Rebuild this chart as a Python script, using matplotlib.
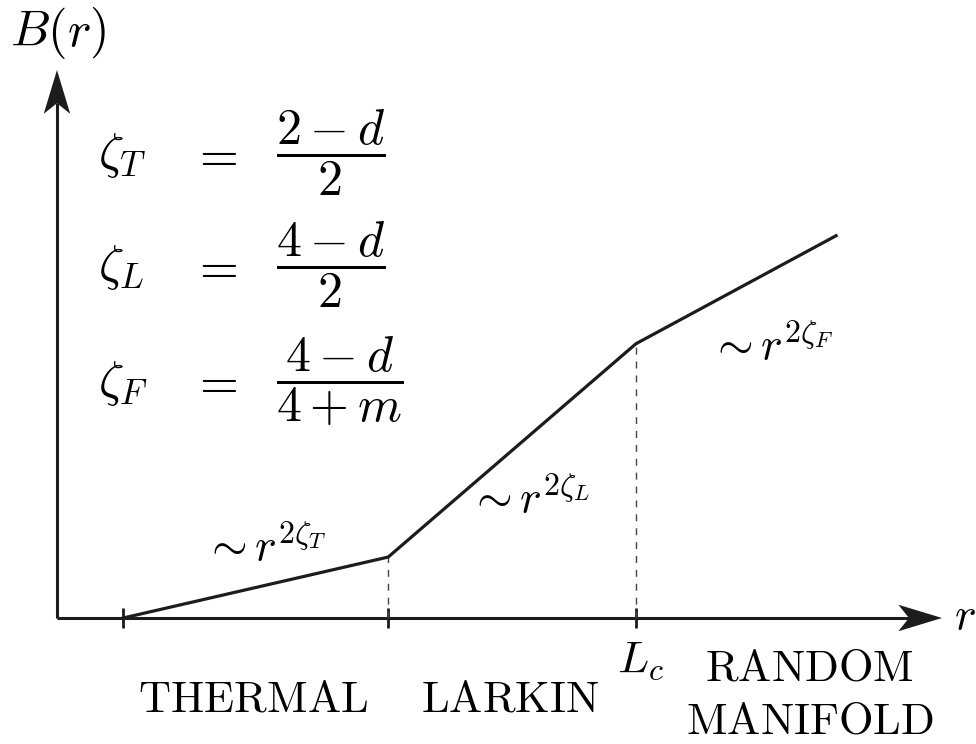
import matplotlib
matplotlib.use("Agg")
import matplotlib.pyplot as plt
from matplotlib.patches import Polygon

plt.rcParams['mathtext.fontset'] = 'cm'

# crossover scales and the piecewise power-law sketch of B(r)
r_points = [1.0, 5.0, 8.74, 11.76]
B_points = [0.0, 0.92, 4.14, 5.77]
tick_r = [1.0, 5.0, 8.74]
crossover_r = [5.0, 8.74]
crossover_B = [0.92, 4.14]

regime_labels = [r'$\mathrm{THERMAL}$', r'$\mathrm{LARKIN}$',
                 r'$\mathrm{RANDOM}$', r'$\mathrm{MANIFOLD}$']
law_labels = [r'$\sim r^{2\zeta_T}$', r'$\sim r^{2\zeta_L}$', r'$\sim r^{2\zeta_F}$']
zeta_names = [r'$\zeta_T$', r'$\zeta_L$', r'$\zeta_F$']
zeta_values = [r'$\dfrac{2-d}{2}$', r'$\dfrac{4-d}{2}$', r'$\dfrac{4-d}{4+m}$']

ink = '#1c1c1c'

fig = plt.figure(figsize=(9.76, 7.44), dpi=100)
ax = fig.add_axes([0, 0, 1, 1])
ax.set_xlim(-0.860, 13.872)
ax.set_ylim(-1.902, 9.328)
ax.axis('off')

# axes with stealth-style arrow heads
x_tip, y_tip = 13.36, 8.27
head_len, notch, half_w = 0.66, 0.16, 0.20
ax.plot([0, x_tip - head_len + notch], [0, 0], color=ink, lw=2.2, solid_capstyle='butt')
ax.plot([0, 0], [0, y_tip - head_len + notch], color=ink, lw=2.2, solid_capstyle='butt')
ax.add_patch(Polygon([(x_tip, 0), (x_tip - head_len, half_w),
                      (x_tip - head_len + notch, 0), (x_tip - head_len, -half_w)],
                     closed=True, color=ink, lw=0))
ax.add_patch(Polygon([(0, y_tip), (half_w, y_tip - head_len),
                      (0, y_tip - head_len + notch), (-half_w, y_tip - head_len)],
                     closed=True, color=ink, lw=0))

for t in tick_r:
    ax.plot([t, t], [-0.15, 0.15], color=ink, lw=2.0, solid_capstyle='butt')

for rc, bc in zip(crossover_r, crossover_B):
    ax.plot([rc, rc], [0, bc], color='#444444', lw=1.0, ls=(0, (5, 5)))

ax.plot(r_points, B_points, color=ink, lw=2.3, solid_joinstyle='miter')

# axis labels
ax.text(0.015, 8.83, r'$B(r)$', fontsize=36, ha='center', va='center')
ax.text(13.70, 0.02, r'$r$', fontsize=33, ha='center', va='center')
ax.text(8.80, -0.65, r'$L_c$', fontsize=33, ha='center', va='center')

# exponents
rows_y = [7.02, 5.33, 3.58]
for name, value, y in zip(zeta_names, zeta_values, rows_y):
    ax.text(0.62, y - 0.04, name, fontsize=36, ha='left', va='center')
    ax.text(2.38, y - 0.04, r'$=$', fontsize=36, ha='center', va='center')
    ax.text(3.31, y, value, fontsize=36, ha='left', va='center')

law_pos = [(3.14, 1.05), (7.12, 1.78), (10.78, 4.09)]
for lab, (x, y) in zip(law_labels, law_pos):
    ax.text(x, y, lab, fontsize=33, ha='center', va='center')

regime_pos = [(2.96, -1.22), (6.84, -1.22), (11.35, -0.76), (11.37, -1.55)]
for lab, (x, y) in zip(regime_labels, regime_pos):
    ax.text(x, y, lab, fontsize=32, ha='center', va='center')

fig.savefig('out.png', dpi=100, facecolor='white')
